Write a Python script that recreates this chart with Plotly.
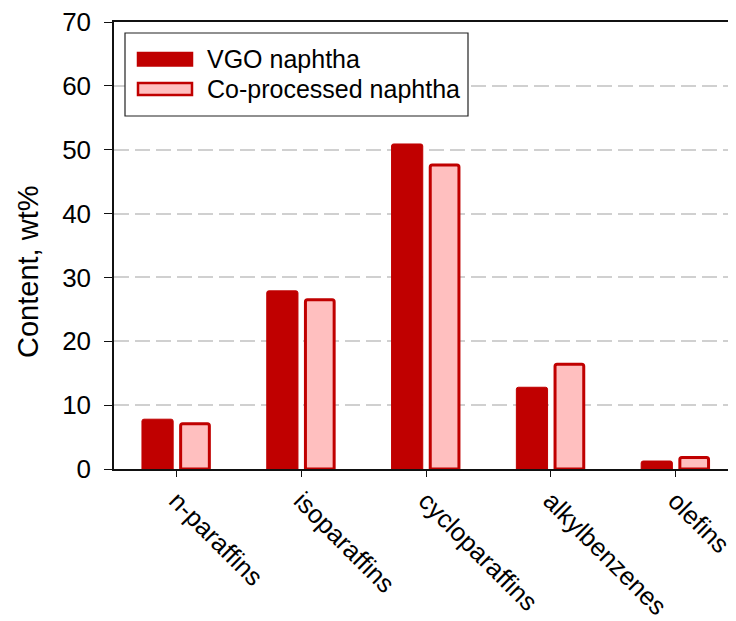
import plotly.graph_objects as go

categories = ["n-paraffins", "isoparaffins", "cycloparaffins", "alkylbenzenes", "olefins"]
vgo_naphtha = [7.8, 27.9, 50.9, 12.8, 1.25]
coprocessed_naphtha = [7.1, 26.5, 47.6, 16.4, 1.8]
series_names = ["VGO naphtha", "Co-processed naphtha"]
y_ticks = [0, 10, 20, 30, 40, 50, 60, 70]

DARK = "#C00000"
PINK = "#FFBFBF"
FONT = "Arial, Liberation Sans, sans-serif"

# the page body has an 8px margin, so the figure is drawn 8px smaller
OFF = 8
W, H = 736 - OFF, 621 - OFF
L, R, T, B = 114 - OFF, 0, 22 - OFF, 152
PW, PH = W - L - R, H - T - B


def px_x(px):
    """screen x pixel -> paper coordinate"""
    return (px - OFF - L) / PW


def px_y(py):
    """screen y pixel -> paper coordinate"""
    return (H - B - (py - OFF)) / PH


fig = go.Figure()
fig.add_trace(go.Bar(
    x=categories, y=vgo_naphtha, name=series_names[0],
    marker=dict(color=DARK, line=dict(color=DARK, width=1), cornerradius=2),
    width=0.25, offset=-0.276, showlegend=False,
))
fig.add_trace(go.Bar(
    x=categories, y=coprocessed_naphtha, name=series_names[1],
    marker=dict(color=PINK, line=dict(color=DARK, width=3), cornerradius=2),
    width=0.23, offset=0.034, showlegend=False,
))

# legend drawn as a box
shapes = [
    dict(type="rect", xref="paper", yref="paper",
         x0=px_x(125), x1=px_x(468), y0=px_y(116), y1=px_y(33),
         line=dict(color="#222222", width=1.2), fillcolor="white", layer="above"),
    dict(type="rect", xref="paper", yref="paper",
         x0=px_x(137.5), x1=px_x(192.5), y0=px_y(66), y1=px_y(52.5),
         line=dict(color=DARK, width=1.5), fillcolor=DARK, layer="above"),
    dict(type="rect", xref="paper", yref="paper",
         x0=px_x(138), x1=px_x(192), y0=px_y(95), y1=px_y(83),
         line=dict(color=DARK, width=2.5), fillcolor=PINK, layer="above"),
]
annotations = [
    dict(text=series_names[0], xref="paper", yref="paper", x=px_x(205), y=px_y(59),
         xanchor="left", yanchor="middle", showarrow=False,
         font=dict(family=FONT, size=25, color="black")),
    dict(text=series_names[1], xref="paper", yref="paper", x=px_x(205), y=px_y(89),
         xanchor="left", yanchor="middle", showarrow=False,
         font=dict(family=FONT, size=25, color="black")),
    dict(text="Content, wt%", xref="paper", yref="paper", x=px_x(28), y=px_y(272),
         xanchor="center", yanchor="middle", textangle=-90, showarrow=False,
         font=dict(family=FONT, size=29, color="black")),
]

fig.update_layout(
    width=W, height=H,
    margin=dict(l=L, r=R, t=T, b=B, pad=0, autoexpand=False),
    paper_bgcolor="white", plot_bgcolor="white",
    font=dict(family=FONT, size=24, color="black"),
    shapes=shapes, annotations=annotations,
    showlegend=False,
)
fig.update_xaxes(
    type="category", range=[-0.5, -0.5 + PW / 124.8], automargin=False,
    showline=True, linecolor="#111111", linewidth=1.5, mirror=True,
    ticks="outside", ticklen=6, tickwidth=1.2, tickcolor="#111111",
    tickangle=45, tickfont=dict(family=FONT, size=25.5, color="black"),
    ticklabeloverflow="allow", ticklabelstandoff=-1,
    showgrid=False, zeroline=False,
)
fig.update_yaxes(
    range=[0, 70], tickvals=y_ticks, automargin=False,
    showline=True, linecolor="#111111", linewidth=1.5,
    ticks="outside", ticklen=8, tickwidth=1.2, tickcolor="#111111",
    tickfont=dict(family=FONT, size=26, color="black"),
    ticklabelstandoff=8, ticklabeloverflow="allow",
    showgrid=True, gridcolor="#D0D0D0", gridwidth=1.5, griddash="15px,6px",
    zeroline=False,
)

fig.write_html("out.html")
